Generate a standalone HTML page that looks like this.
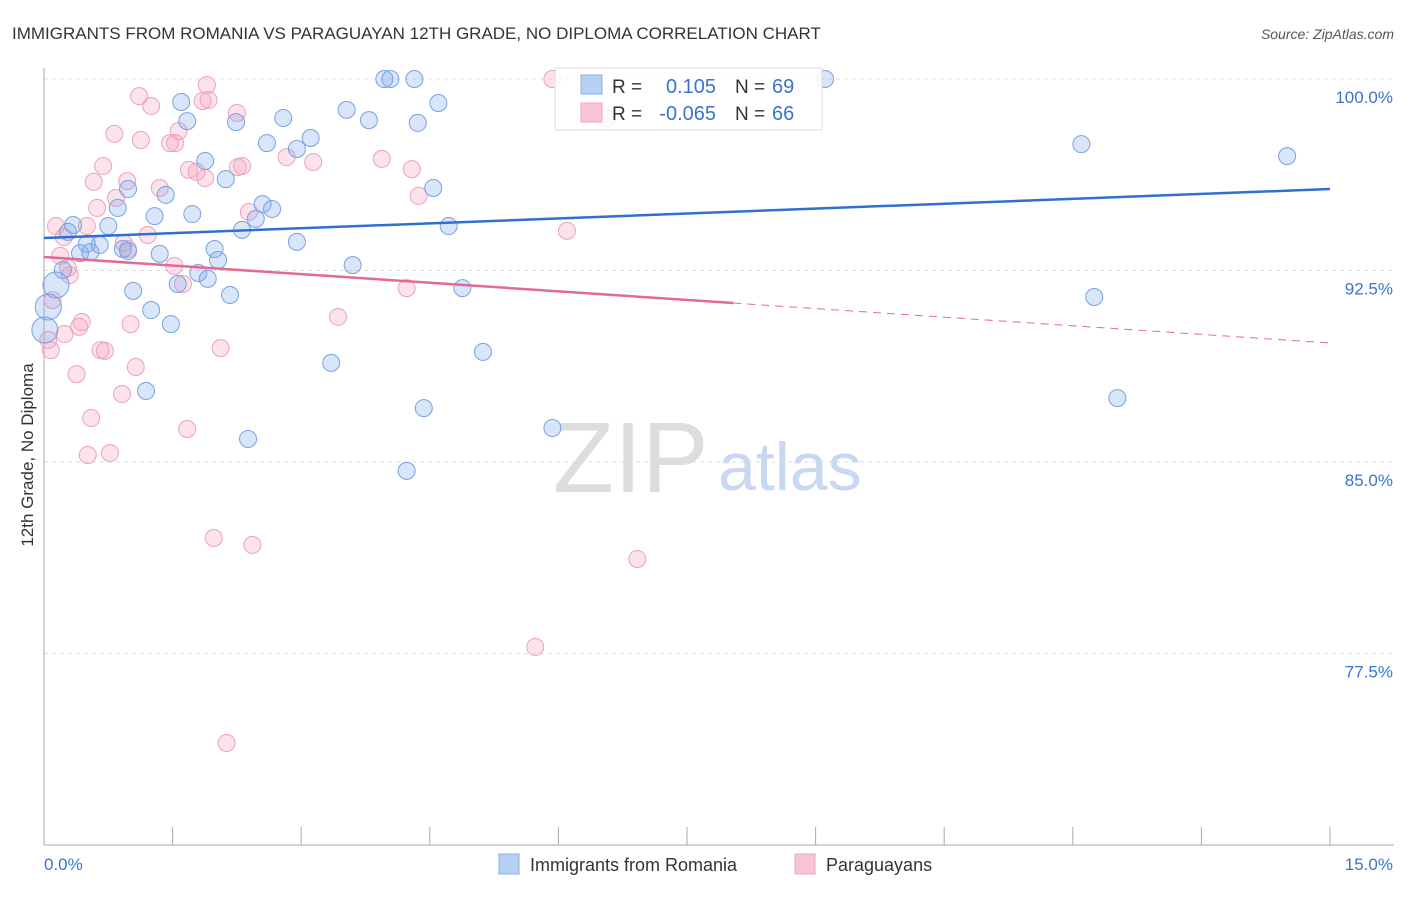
<!DOCTYPE html>
<html><head><meta charset="utf-8"><style>
body{margin:0;background:#fff;font-family:"Liberation Sans",sans-serif;}
svg text{font-family:"Liberation Sans",sans-serif;}
</style></head><body>
<svg id="c" width="1406" height="892" xmlns="http://www.w3.org/2000/svg">
<text x="12" y="39" font-size="17" fill="#333">IMMIGRANTS FROM ROMANIA VS PARAGUAYAN 12TH GRADE, NO DIPLOMA CORRELATION CHART</text>
<text x="1394" y="39" font-size="14" fill="#555" font-style="italic" text-anchor="end">Source: ZipAtlas.com</text>
<text x="33" y="455" font-size="17" fill="#333" text-anchor="middle" transform="rotate(-90 33 455)">12th Grade, No Diploma</text>
<text x="553" y="492" font-size="100" fill="#ddd" font-family="Liberation Serif">ZIP</text>
<text x="718" y="490" font-size="68" fill="#c8d8f0">atlas</text>
<g id="grid"></g><g id="pts"></g><g id="lines"></g>
<g>
<rect x="555" y="68" width="267" height="62" fill="#fff" fill-opacity="0.85" stroke="#ddd"/>
<rect x="581" y="75" width="21" height="19" fill="#b8d0f4" stroke="#8ab0e8"/>
<rect x="581" y="103" width="21" height="19" fill="#f8c4d4" stroke="#eda6be"/>
<text x="612" y="93" font-size="19" fill="#333">R =</text><text x="716" y="93" font-size="20" fill="#3a74d0" text-anchor="end">0.105</text>
<text x="735" y="93" font-size="19" fill="#333">N =</text><text x="772" y="93" font-size="20" fill="#3a74d0">69</text>
<text x="612" y="120" font-size="19" fill="#333">R =</text><text x="716" y="120" font-size="20" fill="#3a74d0" text-anchor="end">-0.065</text>
<text x="735" y="120" font-size="19" fill="#333">N =</text><text x="772" y="120" font-size="20" fill="#3a74d0">66</text>
</g>
<g>
<rect x="499" y="854" width="20" height="20" fill="#b8d0f4" stroke="#8ab0e8"/>
<text x="530" y="871" font-size="18" fill="#333">Immigrants from Romania</text>
<rect x="795" y="854" width="20" height="20" fill="#f8c4d4" stroke="#eda6be"/>
<text x="826" y="871" font-size="18" fill="#333">Paraguayans</text>
</g>
</svg>
<script>
const yTicks=[100,92.5,85,77.5];
const yTickLabels=["100.0%","92.5%","85.0%","77.5%"];
const xTicks=[0,1.5,3,4.5,6,7.5,9,10.5,12,13.5,15];
const blueX=[3.97,4.04,4.32,9.11,1.60,4.60,3.53,1.67,2.24,3.79,2.79,4.36,3.11,2.60,2.95,1.88,2.12,0.98,1.42,4.54,0.86,2.55,2.66,1.29,1.73,2.47,0.34,0.75,2.31,4.72,0.28,0.50,0.65,0.92,0.98,1.99,0.42,0.54,2.95,1.35,2.03,0.22,3.60,1.80,1.91,1.56,1.04,2.17,4.88,1.25,1.48,0.14,0.05,0.01,3.35,1.19,5.12,4.43,2.38,5.93,4.23,12.10,14.50,12.25,12.52,6.57];
const blueY=[100,100,100,100,99.10,99.06,98.79,98.35,98.31,98.39,98.47,98.28,97.69,97.49,97.26,96.79,96.08,95.69,95.46,95.73,94.95,95.10,94.91,94.63,94.71,94.52,94.28,94.24,94.09,94.24,94.01,93.54,93.50,93.34,93.26,93.34,93.18,93.22,93.62,93.15,92.91,92.52,92.71,92.40,92.17,91.97,91.70,91.54,91.81,90.95,90.40,91.93,91.07,90.17,88.88,87.78,89.31,87.11,85.90,86.33,84.65,97.45,96.98,91.46,87.50,98.47];
const pinkX=[5.93,1.90,1.11,1.92,1.25,1.85,2.25,0.82,1.57,1.13,1.47,2.83,3.14,3.94,0.69,2.31,2.26,1.69,1.78,4.29,1.88,0.97,0.58,1.35,0.84,4.37,0.62,2.39,0.14,0.50,0.23,1.21,0.93,0.98,0.19,1.52,0.30,0.28,1.62,4.23,6.10,0.10,0.44,0.41,3.43,1.01,0.24,0.05,0.08,0.66,0.71,2.06,1.07,0.38,0.91,0.55,1.67,0.77,0.51,1.98,2.43,6.92,5.73,2.13,1.53];
const pinkY=[100,99.76,99.33,99.18,98.94,99.14,98.67,97.85,97.96,97.61,97.49,96.94,96.75,96.87,96.59,96.59,96.55,96.44,96.36,96.47,96.12,96.00,95.97,95.73,95.34,95.42,94.95,94.79,94.24,94.24,93.81,93.89,93.58,93.34,93.07,92.68,92.32,92.60,91.97,91.81,94.05,91.34,90.48,90.29,90.68,90.40,90.01,89.78,89.38,89.38,89.35,89.46,88.72,88.44,87.66,86.72,86.29,85.35,85.27,82.02,81.75,81.20,77.75,73.99,97.49];
const bigBlue=[51,52,53];
const blueTrend=[93.77,95.69];
const pinkTrend=[93.03,89.66];
const pinkSolidEnd=8.04;
const NS="http://www.w3.org/2000/svg";
const X=v=>44+v/15*1286;
const Y=v=>79+(100-v)*25.53;
function mk(tag,attrs,parent){const e=document.createElementNS(NS,tag);for(const k in attrs)e.setAttribute(k,attrs[k]);parent.appendChild(e);return e;}
const grid=document.getElementById('grid');
yTicks.forEach((t,i)=>{
 const l=mk('line',{x1:44,x2:1394,y1:Y(t),y2:Y(t),stroke:'#ddd','stroke-dasharray':'4,4'},grid);
 
 
 const tx=mk('text',{x:1393,y:Y(t)+24,'font-size':17,fill:'#3a74d0','text-anchor':'end'},grid);
 tx.textContent=yTickLabels[i];
 
 
});
const ax=mk('line',{x1:44,x2:1394,y1:845,y2:845,stroke:'#aaa'},grid);


const ay=mk('line',{x1:44,x2:44,y1:68,y2:845,stroke:'#aaa'},grid);


xTicks.forEach(t=>{const l=mk('line',{x1:X(t),x2:X(t),y1:827,y2:845,stroke:'#aaa'},grid);
 
 });
const xl0=mk('text',{x:44,y:870,'font-size':17,fill:'#3a74d0'},grid);xl0.textContent=xTicks[0].toFixed(1)+'%';


const xl1=mk('text',{x:1393,y:870,'font-size':17,fill:'#3a74d0','text-anchor':'end'},grid);xl1.textContent=xTicks[xTicks.length-1].toFixed(1)+'%';


const pts=document.getElementById('pts');
pinkX.forEach((x,i)=>{const c=mk('circle',{cx:X(x),cy:Y(pinkY[i]),r:8.5,fill:'rgba(244,160,190,0.3)',stroke:'#eaa2bc','stroke-width':1},pts);
 
 });
blueX.forEach((x,i)=>{const c=mk('circle',{cx:X(x),cy:Y(blueY[i]),r:bigBlue.includes(i)?13:8.5,fill:'rgba(130,170,235,0.3)',stroke:'#78a2e2','stroke-width':1},pts);
 
 });
const lines=document.getElementById('lines');
const bl=mk('line',{x1:X(0),y1:Y(blueTrend[0]),x2:X(15),y2:Y(blueTrend[1]),stroke:'#2f6fd0','stroke-width':2.5},lines);


const py=v=>pinkTrend[0]+(pinkTrend[1]-pinkTrend[0])*v/15;
const pl=mk('line',{x1:X(0),y1:Y(pinkTrend[0]),x2:X(pinkSolidEnd),y2:Y(py(pinkSolidEnd)),stroke:'#e46a96','stroke-width':2.5},lines);


const pd=mk('line',{x1:X(pinkSolidEnd),y1:Y(py(pinkSolidEnd)),x2:X(15),y2:Y(pinkTrend[1]),stroke:'#e46a96','stroke-width':1,'stroke-dasharray':'8,6'},lines);


</script>
</body></html>
